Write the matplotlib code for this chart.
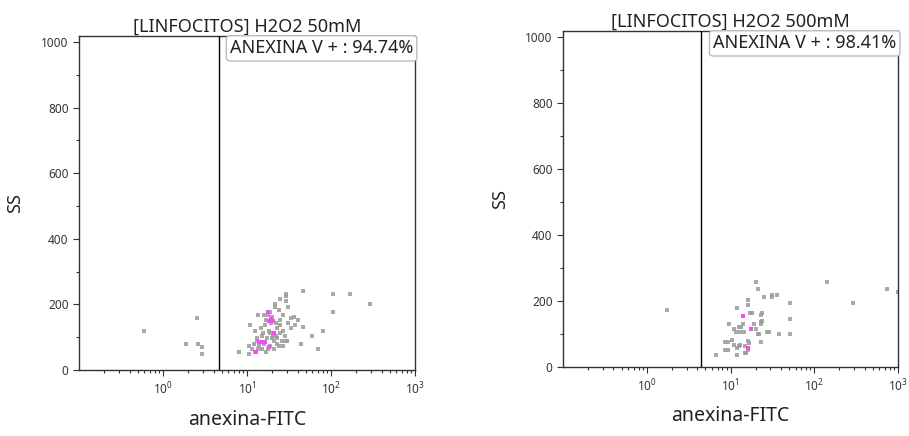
import numpy as np
import matplotlib
matplotlib.use("Agg")
import matplotlib.pyplot as plt
from matplotlib.ticker import LogLocator, MultipleLocator, LogFormatterSciNotation

plt.rcParams['font.family'] = ['Noto Sans', 'DejaVu Sans']

# panel 1: H2O2 50mM
titles = ["[LINFOCITOS] H2O2 50mM", "[LINFOCITOS] H2O2 500mM"]
labels_pct = ["ANEXINA V + : 94.74%", "ANEXINA V + : 98.41%"]
gates = [4.6, 4.5]

x1_gray = [0.59, 2.54, 1.9, 2.6, 2.94, 2.94,
           7.96, 10.6, 10.6, 11.5, 12.0, 12.5, 13.0, 13.5, 14.0, 15.0, 16.0, 17.0,
           18.0, 19.0, 20.0, 21.0, 22.0, 23.0, 24.0, 25.0, 26.0, 28.0, 30.0,
           11.0, 12.5, 14.5, 15.5, 16.5, 18.5, 19.5, 20.5, 22.5, 24.5, 26.5,
           13.0, 15.0, 17.5, 19.0, 21.0, 23.0, 27.0, 29.0, 31.0, 33.0,
           29.0, 29.0, 29.0, 25.0, 21.5, 21.5, 31.0, 33.0, 40.0, 46.0,
           44.0, 37.0, 36.0, 46.0, 60.0, 70.0, 80.0, 107.0, 107.0, 167.0, 295.0,
           13.5, 16.0, 18.0, 20.0, 24.0, 27.0, 17.0, 19.0, 22.0, 25.0]
y1_gray = [120, 159, 79, 79, 71, 48,
           56, 48, 72, 64, 80, 56, 88, 64, 72, 64, 80, 56,
           64, 72, 96, 88, 104, 80, 72, 112, 88, 104, 88,
           136, 120, 128, 112, 136, 120, 144, 104, 128, 152, 120,
           96, 104, 96, 112, 64, 96, 72, 88, 144, 128,
           233, 225, 209, 217, 200, 192, 192, 159, 151, 130,
           80, 136, 160, 241, 105, 64, 120, 233, 178, 233, 200,
           168, 168, 168, 160, 184, 168, 152, 176, 144, 136]
x1_pink = [18.0, 18.5, 19.5, 20.5, 20.7, 14.0, 15.5, 16.5, 12.8, 18.3]
y1_pink = [177, 150, 155, 150, 112, 86, 86, 86, 56, 71]

# panel 2: H2O2 500mM
x2_gray = [1.73, 6.8, 11.9, 8.6, 9.4, 8.6, 9.4, 9.7, 11.9,
           19.9, 21.3, 25.0, 31.0, 36.0, 31.0, 51.0, 51.0, 51.0, 38.0, 29.0, 23.4,
           16.0, 16.0, 142.0, 290.0, 740.0, 990.0,
           24.0, 23.0, 24.0, 23.0, 23.0, 17.0, 18.0, 21.0, 22.0,
           13.0, 12.5, 11.0, 11.5, 13.5, 14.5, 14.0, 16.0, 16.5, 15.0, 15.5,
           10.5, 11.0, 12.0, 12.5, 13.0, 15.0, 16.0, 27.0, 19.0, 20.0]
y2_gray = [172, 35, 35, 51, 51, 75, 75, 130, 179,
           259, 235, 211, 217, 217, 211, 195, 146, 99, 99, 107, 75,
           203, 187, 259, 195, 235, 227,
           164, 156, 140, 130, 135, 164, 164, 99, 99,
           107, 122, 115, 107, 122, 107, 130, 80, 72, 64, 43,
           83, 67, 59, 64, 67, 43, 51, 107, 130, 115]
x2_pink = [14.0, 17.5, 16.2]
y2_pink = [154, 114, 59]

panels = [
    (x1_gray, y1_gray, x1_pink, y1_pink),
    (x2_gray, y2_gray, x2_pink, y2_pink),
]
positions = [[0.0869, 0.1514, 0.3696, 0.766], [0.6194, 0.1583, 0.3685, 0.7706]]

fig = plt.figure(figsize=(9.09, 4.36), dpi=100)

for i, (xg, yg, xp, yp) in enumerate(panels):
    ax = fig.add_axes(positions[i])
    ax.scatter(xg, yg, s=6, marker='s', color='#9a9a9a', alpha=0.85, linewidths=0, zorder=2)
    ax.scatter(xp, yp, s=6, marker='s', color='#ff44ff', linewidths=0, zorder=3)
    ax.set_xscale('log')
    ax.set_xlim(0.1, 1000)
    ax.set_ylim(0, 1018)
    ax.xaxis.set_major_locator(LogLocator(base=10, subs=(1.0,), numticks=10))
    ax.xaxis.set_major_formatter(LogFormatterSciNotation())
    ax.xaxis.set_minor_locator(LogLocator(base=10, subs=np.arange(2, 10), numticks=10))
    ax.set_xticks([1, 10, 100, 1000])
    ax.yaxis.set_major_locator(MultipleLocator(200))
    ax.yaxis.set_minor_locator(MultipleLocator(100))
    ax.tick_params(axis='both', which='major', labelsize=8.5, colors='#333333', length=4, width=0.8)
    ax.tick_params(axis='both', which='minor', length=2, width=0.8, colors='#333333')
    for sp in ax.spines.values():
        sp.set_color('#333333')
        sp.set_linewidth(1.0)
    ax.axvline(gates[i], color='black', linewidth=1.0, zorder=5)
    ax.set_title(titles[i], fontsize=13, color='#222222', pad=2)
    ax.set_xlabel("anexina-FITC", fontsize=14, color='#222222', labelpad=9)
    ax.set_ylabel("SS", fontsize=13, color='#222222', labelpad=12)
    ax.text(0.995, 0.99, labels_pct[i], transform=ax.transAxes, ha='right', va='top',
            fontsize=13, color='#222222', zorder=4,
            bbox=dict(boxstyle='round,pad=0.2', facecolor='white', edgecolor='#bbbbbb', linewidth=1.0))

fig.savefig("out.png", dpi=100)
